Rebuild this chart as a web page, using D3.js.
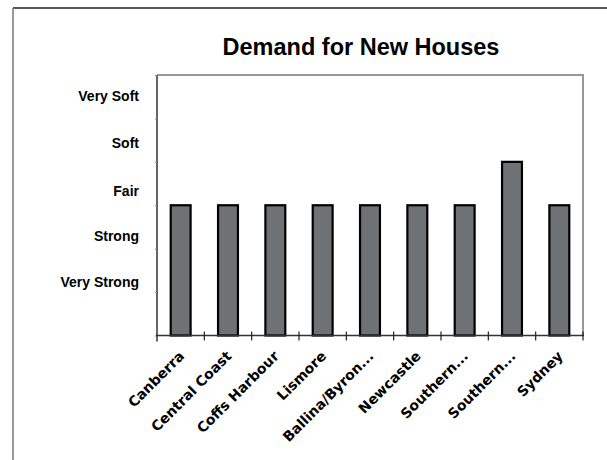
<!DOCTYPE html>
<html>
<head>
  <meta charset='utf-8'>
  <script src='https://d3js.org/d3.v7.min.js'></script>
  <style>
    body { margin: 0; background: #fff; }
    svg { display: block; }
  </style>
</head>
<body>
<script type='text/javascript'>
  // chart data
  var regions = ['Canberra', 'Central Coast', 'Coffs Harbour', 'Lismore', 'Ballina/Byron...',
    'Newcastle', 'Southern...', 'Southern...', 'Sydney'];
  var demand = [3, 3, 3, 3, 3, 3, 3, 4, 3];
  var levelNames = ['Very Strong', 'Strong', 'Fair', 'Soft', 'Very Soft'];
  var levelAt = [1.24, 2.28, 3.33, 4.43, 5.51];
  var yTicks = [0, 1, 2, 3, 4, 5, 6];

  var width = 607, height = 460;
  var plotL = 157, plotR = 583, plotT = 75, plotB = 335.5;

  var svg = d3.select('body').append('svg')
    .attr('width', width)
    .attr('height', height);

  // outer chart frame (runs off the page right and bottom)
  svg.append('line').attr('x1', 13).attr('x2', 620).attr('y1', 8).attr('y2', 8)
    .attr('stroke', '#222').attr('stroke-width', 1.5);
  svg.append('line').attr('x1', 13).attr('x2', 13).attr('y1', 8).attr('y2', 470)
    .attr('stroke', '#777').attr('stroke-width', 1.5);

  svg.append('text')
    .attr('x', 361).attr('y', 55)
    .attr('text-anchor', 'middle')
    .style('font-family', 'Liberation Sans, Arial, sans-serif')
    .style('font-weight', 'bold')
    .style('font-size', '23.5px')
    .text('Demand for New Houses');

  var x = d3.scaleBand().domain(d3.range(regions.length)).range([plotL, plotR]).paddingInner(0);
  var y = d3.scaleLinear().domain([0, 6]).range([plotB, plotT]);

  // plot area border, top and right
  svg.append('path')
    .attr('d', 'M' + plotL + ',' + plotT + 'H' + plotR + 'V' + plotB)
    .attr('fill', 'none').attr('stroke', '#999').attr('stroke-width', 2);

  // bars
  var bw = x.bandwidth() * 0.42;
  svg.selectAll('rect.bar')
    .data(demand)
    .enter()
    .append('rect')
    .attr('class', 'bar')
    .attr('x', function(d, i) { return x(i) + (x.bandwidth() - bw) / 2; })
    .attr('y', function(d) { return y(d); })
    .attr('width', bw)
    .attr('height', function(d) { return y(0) - y(d); })
    .attr('fill', '#6e7275')
    .attr('stroke', '#000')
    .attr('stroke-width', 2.2);

  // y axis: small ticks, no numbers
  var yAxis = svg.append('g')
    .attr('transform', 'translate(' + plotL + ',0)')
    .call(d3.axisLeft(y).tickValues(yTicks).tickSize(2).tickFormat(''));
  yAxis.select('.domain').attr('stroke', '#666').attr('stroke-width', 2)
    .attr('d', 'M0,' + plotT + 'V' + (plotB + 6));
  yAxis.selectAll('.tick line').attr('stroke', '#888');

  // level labels
  svg.selectAll('text.level')
    .data(levelNames)
    .enter()
    .append('text')
    .attr('class', 'level')
    .attr('x', 139)
    .attr('y', function(d, i) { return y(levelAt[i]); })
    .attr('dy', '0.35em')
    .attr('text-anchor', 'end')
    .style('font-family', 'Liberation Sans, Arial, sans-serif')
    .style('font-weight', 'bold')
    .style('font-size', '14px')
    .text(function(d) { return d; });

  // x axis line and crossing ticks at band edges
  svg.append('line')
    .attr('x1', plotL - 1).attr('x2', plotR + 1)
    .attr('y1', plotB).attr('y2', plotB)
    .attr('stroke', '#333').attr('stroke-width', 1.5);
  var edges = d3.range(regions.length + 1).map(function(i) {
    return i < regions.length ? x(i) : plotR;
  });
  svg.selectAll('line.xtick')
    .data(edges.slice(1))
    .enter()
    .append('line')
    .attr('class', 'xtick')
    .attr('x1', function(d) { return d; }).attr('x2', function(d) { return d; })
    .attr('y1', plotB - 4).attr('y2', plotB + 5)
    .attr('stroke', '#222').attr('stroke-width', 1.2);

  // category labels, rotated
  svg.selectAll('text.cat')
    .data(regions)
    .enter()
    .append('text')
    .attr('class', 'cat')
    .attr('transform', function(d, i) {
      return 'translate(' + (x(i) + x.bandwidth() / 2 + 1) + ',' + (plotB + 18) + ') rotate(-45)';
    })
    .attr('text-anchor', 'end')
    .attr('dy', '0.35em')
    .style('font-family', 'DejaVu Sans, Verdana, sans-serif')
    .style('font-weight', 'bold')
    .style('font-size', '14px')
    .text(function(d) { return d; });
</script>
</body>
</html>
